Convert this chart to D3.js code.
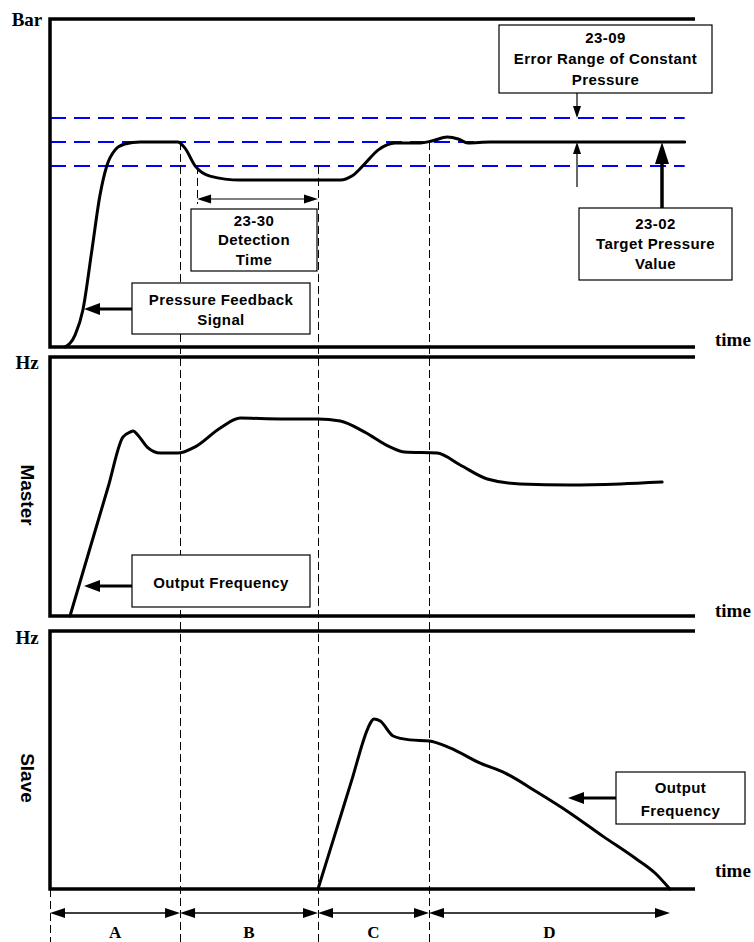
<!DOCTYPE html>
<html>
<head>
<meta charset="utf-8">
<script src="https://cdn.jsdelivr.net/npm/d3@7/dist/d3.min.js"></script>
<style>
  body { margin: 0; background: #fff; }
  svg { display: block; }
  .box text { font-family: "Liberation Sans", Arial, sans-serif; font-weight: bold; font-size: 15px; letter-spacing: 0.4px; }
  .serif { font-family: "Liberation Serif", "Times New Roman", serif; font-weight: bold; font-size: 19px; }
</style>
</head>
<body>
<svg width="754" height="942"></svg>
<script>
// Time axis runs 0..100, each panel's value axis runs 0..100
var pressureT = [2.3, 3.9, 5.1, 6.5, 7.75, 8.8, 10.1, 11.6, 14.0, 19.8, 20.9, 22.5, 24.8, 29.5, 45.0, 46.8, 48.5, 50.9, 53.5, 57.4, 59.2, 61.6, 63.3, 64.8, 68.2, 98.4];
var pressureV = [0, 3.7, 11.3, 29.6, 46.3, 55.2, 60.1, 61.9, 62.5, 62.5, 60.7, 55.2, 52.1, 50.9, 50.9, 52.1, 55.2, 60.1, 62.2, 62.2, 62.8, 64.0, 63.4, 62.2, 62.5, 62.5];

var masterT = [3.1, 6.05, 9.0, 11.3, 12.4, 12.9, 13.6, 15.2, 17.1, 19.8, 22.5, 26.4, 29.5, 35.7, 41.5, 45.0, 48.8, 52.7, 55.0, 60.0, 63.6, 67.8, 72.9, 80.6, 88.4, 94.9];
var masterV = [0, 24.9, 49.7, 69.1, 71.0, 71.4, 69.9, 64.9, 62.9, 62.9, 65.3, 72.6, 76.4, 76.1, 76.1, 75.3, 71.0, 65.3, 63.3, 62.9, 58.3, 52.9, 51.0, 50.6, 51.0, 51.7];

var slaveT = [41.55, 44.0, 46.7, 49.3, 49.8, 50.2, 51.2, 53.2, 55.8, 58.8, 62.0, 66.7, 70.5, 75.5, 80.6, 85.7, 90.7, 93.8, 96.1];
var slaveV = [0, 19.7, 41.5, 62.4, 64.9, 65.9, 65.1, 59.3, 57.8, 57.4, 54.7, 48.8, 45.0, 37.6, 29.5, 20.5, 12.0, 6.2, 0];

var target = 62.5;
var errorBand = 7.3;
var phaseBounds = [0, 20.16, 41.55, 58.76, 96.12];
var phaseLabels = ["A", "B", "C", "D"];
var detectStart = 22.8;

var svg = d3.select("svg");
var x = d3.scaleLinear().domain([0, 100]).range([50, 695]);

// One panel per signal
var panels = [
  {top: 19, bottom: 347, unit: "Bar", unitY: 26, timeY: 346},
  {top: 357, bottom: 616, unit: "Hz", unitY: 369, timeY: 617, name: "Master", nameY: 495},
  {top: 631, bottom: 889, unit: "Hz", unitY: 644, timeY: 877, name: "Slave", nameY: 778}
];
panels.forEach(function(p) {
  p.y = d3.scaleLinear().domain([0, 100]).range([p.bottom, p.top]);
});

var line = d3.line()
  .x(function(d) { return x(d[0]); })
  .y(function(d) { return d[1]; })
  .curve(d3.curveMonotoneX);

function arrowHead(g, tx, ty, dir, len, hw) {
  // dir: "l", "r", "u", "d" – the way the tip points
  var pts;
  if (dir == "l") pts = [[tx, ty], [tx + len, ty - hw], [tx + len, ty + hw]];
  if (dir == "r") pts = [[tx, ty], [tx - len, ty - hw], [tx - len, ty + hw]];
  if (dir == "u") pts = [[tx, ty], [tx - hw, ty + len], [tx + hw, ty + len]];
  if (dir == "d") pts = [[tx, ty], [tx - hw, ty - len], [tx + hw, ty - len]];
  g.append("polygon").attr("points", pts.map(function(p) { return p.join(","); }).join(" ")).attr("fill", "#000");
}

// Blue error band lines
var y0 = panels[0].y;
[target + errorBand, target, target - errorBand].forEach(function(v) {
  svg.append("line")
    .attr("x1", x(0)).attr("x2", x(98.4))
    .attr("y1", y0(v)).attr("y2", y0(v))
    .attr("stroke", "#0000ff").attr("stroke-width", 2)
    .attr("stroke-dasharray", "16,8");
});

// Phase boundaries (dashed verticals)
var vStarts = [null, y0(target), y0(target - errorBand), y0(target)];
phaseBounds.slice(0, 4).forEach(function(t, i) {
  var px = Math.round(x(t)) + 0.5;
  svg.append("line")
    .attr("x1", px).attr("x2", px)
    .attr("y1", i == 0 ? panels[2].bottom : vStarts[i]).attr("y2", 942)
    .attr("stroke", "#000").attr("stroke-width", 1)
    .attr("stroke-dasharray", "8,4");
});
var dpx = Math.round(x(detectStart)) + 0.5;
svg.append("line")
  .attr("x1", dpx).attr("x2", dpx)
  .attr("y1", y0(target - errorBand)).attr("y2", 204)
  .attr("stroke", "#000").attr("stroke-width", 1)
  .attr("stroke-dasharray", "8,4");

// Panel frames
panels.forEach(function(p) {
  svg.append("path")
    .attr("d", "M" + x(100) + "," + p.top + "H" + x(0) + "V" + p.bottom + "H" + x(100))
    .attr("fill", "none").attr("stroke", "#000").attr("stroke-width", 3.5);
  svg.append("text").attr("class", "serif")
    .attr("x", 27).attr("y", p.unitY).attr("text-anchor", "middle").text(p.unit);
  svg.append("text").attr("class", "serif")
    .attr("x", 715).attr("y", p.timeY).text("time");
  if (p.name) {
    svg.append("text")
      .attr("transform", "translate(21," + p.nameY + ") rotate(90)")
      .attr("text-anchor", "middle")
      .style("font-family", "'Liberation Sans', Arial, sans-serif")
      .style("font-weight", "bold").style("font-size", "19px")
      .text(p.name);
  }
});

// Curves
var curves = [
  {t: pressureT, v: pressureV, p: panels[0]},
  {t: masterT, v: masterV, p: panels[1]},
  {t: slaveT, v: slaveV, p: panels[2]}
];
curves.forEach(function(c) {
  var pts = c.t.map(function(t, i) { return [t, c.p.y(c.v[i])]; });
  svg.append("path").attr("d", line(pts))
    .attr("fill", "none").attr("stroke", "#000").attr("stroke-width", 3)
    .attr("stroke-linejoin", "round").attr("stroke-linecap", "round");
});

var ann = svg.append("g");

// Error range arrows
var ex = 577;
ann.append("line").attr("x1", ex).attr("x2", ex).attr("y1", 93).attr("y2", y0(target + errorBand) - 10).attr("stroke", "#000").attr("stroke-width", 1.2);
arrowHead(ann, ex, y0(target + errorBand), "d", 12, 4);
ann.append("line").attr("x1", ex).attr("x2", ex).attr("y1", 187).attr("y2", y0(target) + 10).attr("stroke", "#000").attr("stroke-width", 1.2);
arrowHead(ann, ex, y0(target), "u", 12, 4);

// Target arrow
ann.append("line").attr("x1", 662).attr("x2", 662).attr("y1", 208).attr("y2", y0(target) + 18).attr("stroke", "#000").attr("stroke-width", 3.5);
arrowHead(ann, 662, y0(target), "u", 22, 7);

// Detection time arrow
ann.append("line").attr("x1", x(detectStart) + 6).attr("x2", x(phaseBounds[2]) - 6).attr("y1", 199).attr("y2", 199).attr("stroke", "#000").attr("stroke-width", 1.2);
arrowHead(ann, x(detectStart), 199, "l", 14, 4.5);
arrowHead(ann, x(phaseBounds[2]), 199, "r", 14, 4.5);

// Pointer arrows from boxes
[[132, 309], [132, 586]].forEach(function(a) {
  ann.append("line").attr("x1", a[0]).attr("x2", a[0] - 35).attr("y1", a[1]).attr("y2", a[1]).attr("stroke", "#000").attr("stroke-width", 3);
  arrowHead(ann, a[0] - 48, a[1], "l", 16, 6);
});
ann.append("line").attr("x1", 616).attr("x2", 580).attr("y1", 798).attr("y2", 798).attr("stroke", "#000").attr("stroke-width", 3);
arrowHead(ann, 568, 798, "l", 16, 6);

// Boxes
var boxes = [
  {x: 499, y: 25, w: 213, h: 68, lines: ["23-09", "Error Range of Constant", "Pressure"], base: 43, step: 21},
  {x: 579, y: 208, w: 153, h: 72, lines: ["23-02", "Target Pressure", "Value"], base: 228.5, step: 20},
  {x: 191, y: 209, w: 126, h: 62, lines: ["23-30", "Detection", "Time"], base: 225.5, step: 19.5},
  {x: 132, y: 283, w: 178, h: 51, lines: ["Pressure Feedback", "Signal"], base: 304.5, step: 20},
  {x: 132, y: 555, w: 178, h: 52, lines: ["Output Frequency"], base: 587.5, step: 20},
  {x: 616, y: 772, w: 129, h: 52, lines: ["Output", "Frequency"], base: 792.5, step: 23}
];
boxes.forEach(function(b) {
  var g = svg.append("g").attr("class", "box");
  g.append("rect").attr("x", b.x).attr("y", b.y).attr("width", b.w).attr("height", b.h)
    .attr("fill", "#fff").attr("stroke", "#000").attr("stroke-width", 1.2);
  b.lines.forEach(function(s, i) {
    g.append("text").attr("x", b.x + b.w / 2).attr("y", b.base + i * b.step)
      .attr("text-anchor", "middle").text(s);
  });
});

// Phase dimension arrows and labels
var dimY = 913;
phaseLabels.forEach(function(lab, i) {
  var a = x(phaseBounds[i]), b = x(phaseBounds[i + 1]);
  svg.append("line").attr("x1", a + 10).attr("x2", b - 10).attr("y1", dimY).attr("y2", dimY)
    .attr("stroke", "#000").attr("stroke-width", 1.3);
  arrowHead(svg, a, dimY, "l", 15, 5);
  arrowHead(svg, b, dimY, "r", 15, 5);
  svg.append("text").attr("class", "serif").style("font-size", "17px")
    .attr("x", (a + b) / 2).attr("y", 938).attr("text-anchor", "middle").text(lab);
});
</script>
</body>
</html>
